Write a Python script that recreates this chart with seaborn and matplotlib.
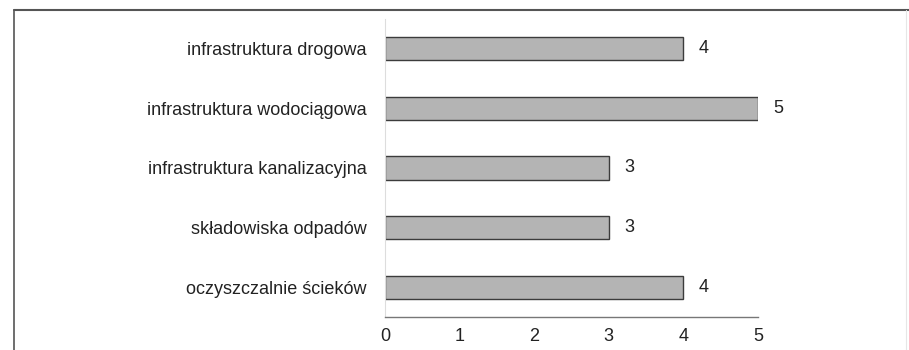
import pandas as pd
import seaborn as sns
import matplotlib.pyplot as plt
from matplotlib.lines import Line2D

categories = [
    "infrastruktura drogowa",
    "infrastruktura wodociągowa",
    "infrastruktura kanalizacyjna",
    "składowiska odpadów",
    "oczyszczalnie ścieków",
]
values = [4, 5, 3, 3, 4]
x_ticks = [0, 1, 2, 3, 4, 5]

df = pd.DataFrame({"category": categories, "value": values})

sns.set_style("white")
plt.rcParams["font.family"] = ["Liberation Sans", "DejaVu Sans"]

fig = plt.figure(figsize=(9.09, 3.5), dpi=100)
ax = fig.add_axes([385 / 909, 1 - 317 / 350, (758 - 385) / 909, (317 - 19) / 350])

sns.barplot(
    data=df,
    x="value",
    y="category",
    orient="h",
    color="#b4b4b4",
    saturation=1,
    width=0.39,
    edgecolor="#3c3c3c",
    linewidth=1.0,
    ax=ax,
)
for c in ax.containers:
    ax.bar_label(c, padding=11, fontsize=13, color="#222222")

ax.set_xlim(0, 5)
ax.set_ylim(len(categories) - 0.5, -0.5)
ax.set_xticks(x_ticks)
ax.set_xlabel("")
ax.set_ylabel("")

# category boundary ticks on the y axis
ax.set_yticks([i + 0.5 for i in range(-1, len(categories))], minor=True)
ax.tick_params(axis="y", which="major", length=0, pad=13, labelsize=13, labelcolor="#222222")
ax.tick_params(axis="y", which="minor", length=3, width=0.8, color="#aaaaaa", direction="out")
ax.tick_params(axis="x", which="major", length=4, width=0.8, color="#666666", direction="in",
               pad=8, labelsize=13, labelcolor="#222222")

for side in ["top", "right"]:
    ax.spines[side].set_visible(False)
ax.spines["left"].set_color("#dddddd")
ax.spines["left"].set_linewidth(0.8)
ax.spines["bottom"].set_color("#777777")
ax.spines["bottom"].set_linewidth(1.0)

# outer frame of the figure
fig.add_artist(Line2D([14 / 909, 1], [1 - 10 / 350, 1 - 10 / 350], transform=fig.transFigure,
                      color="#555555", linewidth=1.5))
fig.add_artist(Line2D([14 / 909, 14 / 909], [0, 1 - 10 / 350], transform=fig.transFigure,
                      color="#555555", linewidth=1.2))
fig.add_artist(Line2D([906 / 909, 906 / 909], [0, 1 - 10 / 350], transform=fig.transFigure,
                      color="#e6e6e6", linewidth=0.8))

fig.savefig("out.png", dpi=100)
